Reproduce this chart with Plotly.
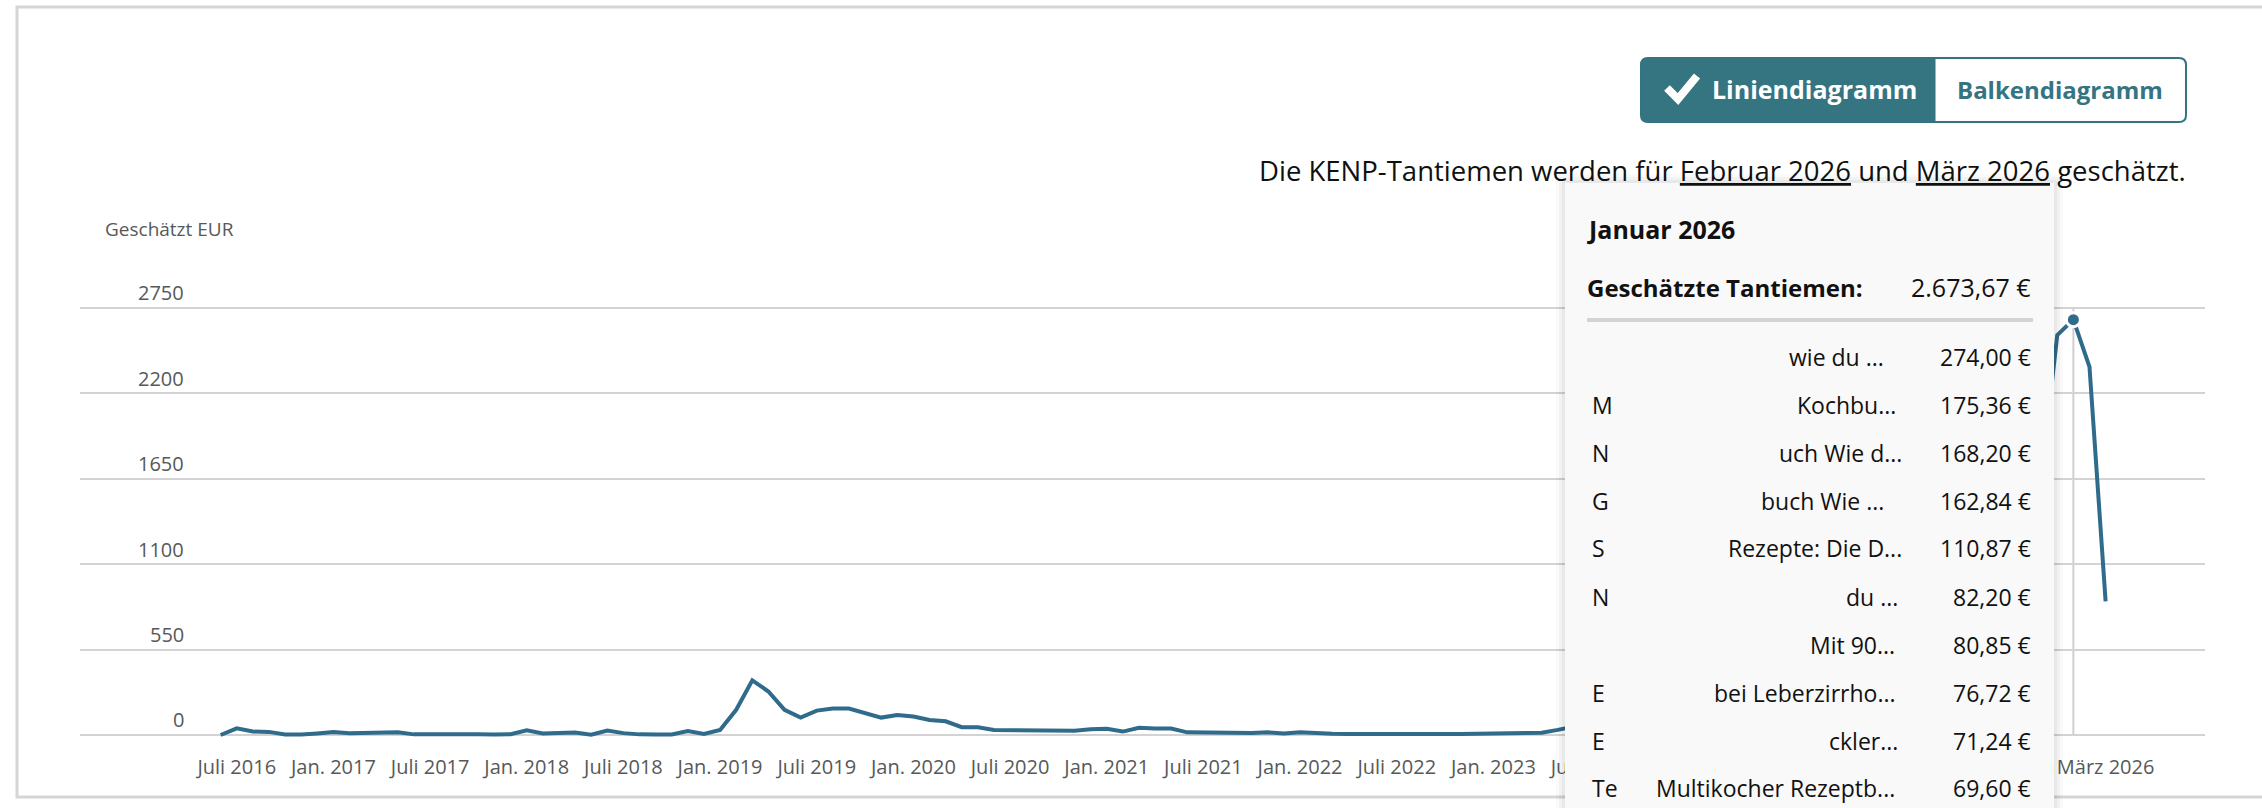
import plotly.graph_objects as go

# ---------------- data ----------------
month_abbr = ["Jan.", "Feb.", "März", "Apr.", "Mai", "Juni",
              "Juli", "Aug.", "Sep.", "Okt.", "Nov.", "Dez."]
start_year, start_month, n_months = 2016, 6, 118
months = []
for i in range(n_months):
    m = (start_month - 1 + i) % 12
    y = start_year + (start_month - 1 + i) // 12
    months.append(f"{month_abbr[m]} {y}")

royalties = [
    0, 43, 22, 20, 3, 3, 10,                      # Jun-Dez 2016
    19, 12, 12, 12, 17, 4, 5, 6, 9, 4, 3, 5,      # 2017
    30, 10, 13, 16, 2, 28, 12, 4, 3, 3, 26, 6,    # 2018
    32, 162, 352, 280, 162, 112, 157, 170, 170, 140, 112, 129,   # 2019
    119, 97, 88, 50, 50, 32, 30, 30, 26, 28, 28, 37,             # 2020
    40, 22, 47, 41, 41, 17, 15, 15, 12, 13, 17, 10,              # 2021
    17, 10, 8, 7, 6, 8, 9, 9, 8, 7, 6, 8,                        # 2022
    9, 9, 9, 14, 33, 55, 70, 85, 110, 140, 160, 190,             # 2023
    240, 260, 310, 290, 340, 380, 420, 470, 450, 520, 580, 640,  # 2024
    720, 760, 850, 900, 980, 1050, 1120, 1230, 1350, 1480, 1650, 2574,  # 2025
    2673.67, 2370, 860,                                          # 2026
]

tick_labels = ["Juli 2016", "Jan. 2017", "Juli 2017", "Jan. 2018", "Juli 2018",
               "Jan. 2019", "Juli 2019", "Jan. 2020", "Juli 2020", "Jan. 2021",
               "Juli 2021", "Jan. 2022", "Juli 2022", "Jan. 2023", "Juli 2023",
               "März 2026"]
y_ticks = [0, 550, 1100, 1650, 2200, 2750]

hover_month = "Jan. 2026"
tooltip_title = "Januar 2026"
tooltip_total_label = "Geschätzte Tantiemen:"
book_left = ["", "M", "N", "G", "S", "N", "", "E", "E", "Te"]
book_right = ["wie du ...", "Kochbu...", "uch Wie d...", "buch Wie ...",
              "Rezepte: Die D...", "du ...", "Mit 90...", "bei Leberzirrho...",
              "ckler...", "Multikocher Rezeptb..."]
book_values = [274.00, 175.36, 168.20, 162.84, 110.87, 82.20, 80.85, 76.72, 71.24, 69.60]


def de(v):
    s = f"{v:,.2f}"
    return s.replace(",", "X").replace(".", ",").replace("X", ".") + " €"


# ---------------- layout helpers ----------------
W, H = 2262, 808
ML, MR, MT, MB = 80, 57, 300, 64
PW, PH = W - ML - MR, H - MT - MB


def px(x):
    return (x - ML) / PW


def py(y):
    return (H - MB - y) / PH


LINE = "#2f6b8a"
TEAL = "#357481"
GRID = "#d3d3d3"
AX = "#565959"
TXT = "#0f1111"
FONT = "Open Sans"

fig = go.Figure()
fig.add_trace(go.Scatter(x=months, y=royalties, mode="lines",
                         line=dict(color=LINE, width=4), hoverinfo="skip"))
hi = months.index(hover_month)
fig.add_trace(go.Scatter(x=[months[hi]], y=[royalties[hi]], mode="markers",
                         marker=dict(color=LINE, size=14, line=dict(color="white", width=3)),
                         hoverinfo="skip"))

shapes = []
# outer card border
shapes.append(dict(type="rect", xref="paper", yref="paper", x0=px(17), x1=px(2280),
                   y0=py(797), y1=py(7), line=dict(color="#d5d5d5", width=3),
                   fillcolor="rgba(0,0,0,0)", layer="above"))
# hover guide line
shapes.append(dict(type="line", xref="x", yref="y", x0=hi, x1=hi, y0=0, y1=2750,
                   line=dict(color="#cfcfcf", width=2), layer="below"))
# tooltip shadow + box
TT_TOP = 183
for d, a in [(9, 0.02), (6, 0.03), (3, 0.04)]:
    shapes.append(dict(type="rect", xref="paper", yref="paper",
                       x0=px(1565 - d), x1=px(2054 + d), y0=py(840), y1=py(TT_TOP - d),
                       line=dict(width=0), fillcolor=f"rgba(0,0,0,{a})", layer="above"))
shapes.append(dict(type="rect", xref="paper", yref="paper", x0=px(1565), x1=px(2054),
                   y0=py(840), y1=py(TT_TOP), line=dict(width=0), fillcolor="#f9f9f9",
                   layer="above"))
shapes.append(dict(type="line", xref="paper", yref="paper", x0=px(1587), x1=px(2033),
                   y0=py(320), y1=py(320), line=dict(color="#d3d3d3", width=4), layer="above"))


def rounded_path(x0, x1, y0, y1, r, left=True, right=True):
    p = []
    if left:
        p.append(f"M {px(x0 + r)},{py(y0)}")
    else:
        p.append(f"M {px(x0)},{py(y0)}")
    if right:
        p.append(f"L {px(x1 - r)},{py(y0)} Q {px(x1)},{py(y0)} {px(x1)},{py(y0 + r)}")
        p.append(f"L {px(x1)},{py(y1 - r)} Q {px(x1)},{py(y1)} {px(x1 - r)},{py(y1)}")
    else:
        p.append(f"L {px(x1)},{py(y0)} L {px(x1)},{py(y1)}")
    if left:
        p.append(f"L {px(x0 + r)},{py(y1)} Q {px(x0)},{py(y1)} {px(x0)},{py(y1 - r)}")
        p.append(f"L {px(x0)},{py(y0 + r)} Q {px(x0)},{py(y0)} {px(x0 + r)},{py(y0)}")
    else:
        p.append(f"L {px(x0)},{py(y1)}")
    p.append("Z")
    return " ".join(p)


shapes.append(dict(type="path", xref="paper", yref="paper",
                   path=rounded_path(1641, 2186, 58, 122, 7), fillcolor="white",
                   line=dict(color=TEAL, width=2), layer="above"))
shapes.append(dict(type="path", xref="paper", yref="paper",
                   path=rounded_path(1641, 1935, 58, 122, 7, right=False), fillcolor=TEAL,
                   line=dict(color=TEAL, width=1), layer="above"))
shapes.append(dict(type="path", xref="paper", yref="paper",
                   path=f"M {px(1667)},{py(88)} L {px(1678)},{py(99)} L {px(1697)},{py(76)}",
                   line=dict(color="white", width=8), layer="above"))

ann = []
ann.append(dict(xref="paper", yref="paper", x=px(2188), y=py(170), xanchor="right",
                yanchor="middle", showarrow=False,
                text="Die KENP-Tantiemen werden für <u>Februar 2026</u> und <u>März 2026</u> geschätzt.",
                font=dict(family=FONT, size=27.5, color=TXT)))
ann.append(dict(xref="paper", yref="paper", x=px(103), y=py(229), xanchor="left",
                yanchor="middle", showarrow=False, text="Geschätzt EUR",
                font=dict(family=FONT, size=19, color=AX)))
for v in y_ticks:
    ann.append(dict(xref="paper", yref="y", x=px(186), y=v, xanchor="right",
                    yanchor="middle", yshift=15, showarrow=False, text=str(v),
                    font=dict(family=FONT, size=20, color=AX)))
ann.append(dict(xref="paper", yref="paper", x=px(1710), y=py(89), xanchor="left",
                yanchor="middle", showarrow=False, text="<b>Liniendiagramm</b>",
                font=dict(family=FONT, size=25, color="white")))
ann.append(dict(xref="paper", yref="paper", x=px(2060), y=py(89), xanchor="center",
                yanchor="middle", showarrow=False, text="<b>Balkendiagramm</b>",
                font=dict(family=FONT, size=24, color=TEAL)))
ann.append(dict(xref="paper", yref="paper", x=px(1585), y=py(229), xanchor="left",
                yanchor="middle", showarrow=False, text=f"<b>{tooltip_title}</b>",
                font=dict(family=FONT, size=25, color="#111111")))
ann.append(dict(xref="paper", yref="paper", x=px(1585), y=py(287), xanchor="left",
                yanchor="middle", showarrow=False, text=f"<b>{tooltip_total_label}</b>",
                font=dict(family=FONT, size=24, color="#111111")))
ann.append(dict(xref="paper", yref="paper", x=px(2033), y=py(287), xanchor="right",
                yanchor="middle", showarrow=False, text=de(royalties[hi]),
                font=dict(family=FONT, size=25, color="#111111")))
row_y = [357, 405, 453, 501, 548, 597, 645, 693, 741, 788]
row_end = [1886, 1898, 1904, 1886, 1904, 1900, 1897, 1898, 1900, 1897]
for i, (lf, rt, v) in enumerate(zip(book_left, book_right, book_values)):
    yy = py(row_y[i])
    if lf:
        ann.append(dict(xref="paper", yref="paper", x=px(1590), y=yy, xanchor="left",
                        yanchor="middle", showarrow=False, text=lf,
                        font=dict(family=FONT, size=23, color="#111111")))
    ann.append(dict(xref="paper", yref="paper", x=px(row_end[i]), y=yy, xanchor="right",
                    yanchor="middle", showarrow=False, text=rt,
                    font=dict(family=FONT, size=23, color="#111111")))
    ann.append(dict(xref="paper", yref="paper", x=px(2033), y=yy, xanchor="right",
                    yanchor="middle", showarrow=False, text=de(v),
                    font=dict(family=FONT, size=23, color="#111111")))

fig.update_layout(
    width=W, height=H,
    margin=dict(l=ML, r=MR, t=MT, b=MB, pad=0),
    paper_bgcolor="white", plot_bgcolor="rgba(0,0,0,0)",
    showlegend=False,
    shapes=shapes, annotations=ann,
    xaxis=dict(type="category", range=[-8.73, 123.17], tickmode="array",
               tickvals=tick_labels, ticktext=tick_labels, showgrid=False,
               zeroline=False, showline=False, ticks="outside", ticklen=5,
               tickcolor="rgba(0,0,0,0)", tickfont=dict(family=FONT, size=20, color=AX),
               fixedrange=True),
    yaxis=dict(range=[-58, 2800], tickmode="array", tickvals=y_ticks,
               showticklabels=False, gridcolor=GRID, gridwidth=2, zeroline=False,
               showline=False, fixedrange=True),
)

fig.write_html("out.html", config={"displayModeBar": False},
               post_script="document.body.style.margin='0';document.body.style.padding='0';"
                           "document.body.style.overflow='hidden';")
